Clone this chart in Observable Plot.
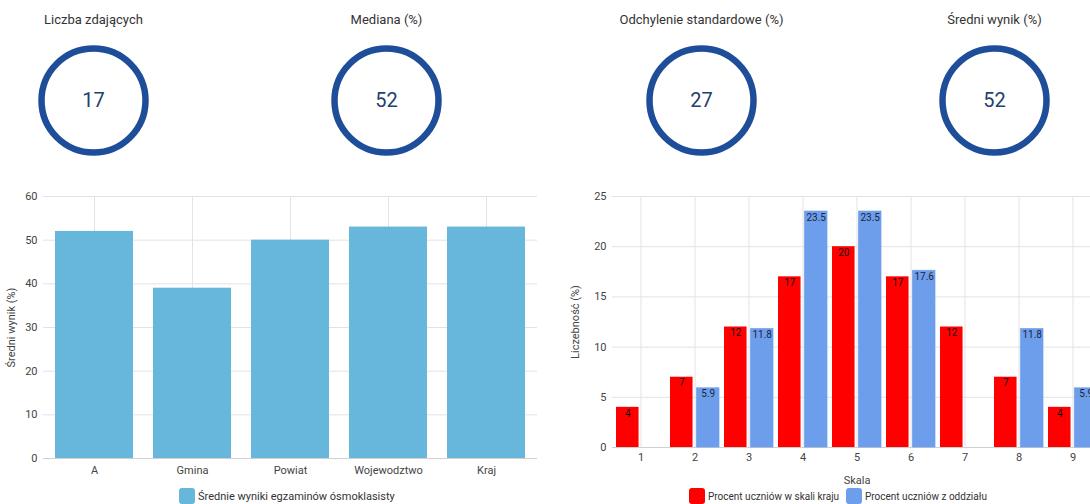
<!DOCTYPE html>
<html>
<head>
<meta charset="utf-8">
<script src="https://cdn.jsdelivr.net/npm/d3@7"></script>
<script src="https://cdn.jsdelivr.net/npm/@observablehq/plot@0.6"></script>
<style>
  html, body { margin: 0; padding: 0; background: #fff; }
  body { width: 1090px; height: 504px; overflow: hidden; position: relative; font-family: Roboto, "Noto Sans", sans-serif; }
  .abs { position: absolute; }
  .abs svg { max-width: none !important; display: block; }
  .legend { position: absolute; display: flex; align-items: center; font-size: 11px; color: #333; white-space: nowrap; }
  .sw { width: 16px; height: 16px; border-radius: 3px; margin-right: 3px; flex: none; }
</style>
</head>
<body>
<script>
// ---- data ----
const kpiLabels = ["Liczba zdających", "Mediana (%)", "Odchylenie standardowe (%)", "Średni wynik (%)"];
const kpiValues = [17, 52, 27, 52];

const areaCategories = ["A", "Gmina", "Powiat", "Wojewodztwo", "Kraj"];
const areaValues = [52, 39, 50, 53, 53];
const areaSeriesName = "Średnie wyniki egzaminów ósmoklasisty";
const areaTicks = [0, 10, 20, 30, 40, 50, 60];

const scaleCategories = ["1", "2", "3", "4", "5", "6", "7", "8", "9"];
const countrySeriesName = "Procent uczniów w skali kraju";
const classSeriesName = "Procent uczniów z oddziału";
const countryValues = [4, 7, 12, 17, 20, 17, 12, 7, 4];
const classValues = [0, 5.9, 11.8, 23.5, 23.5, 17.6, 0, 11.8, 5.9];
const scaleTicks = [0, 5, 10, 15, 20, 25];

// ---- styles ----
const ringColor = "#1e4d99";
const areaColor = "#67b6dc";
const countryColor = "#ff0000";
const classColor = "#6d9eeb";
const gridColor = "#e3e3e3";
const baseStyle = { fontFamily: "Roboto, sans-serif", fontSize: "11px", color: "#444", background: "transparent", overflow: "visible" };

function place(node, left, top, width, height) {
  const d = document.createElement("div");
  d.className = "abs";
  d.style.left = left + "px";
  d.style.top = top + "px";
  d.style.width = width + "px";
  d.style.height = height + "px";
  d.appendChild(node);
  document.body.appendChild(d);
}

// ---- KPI rings ----
const kpiCenters = [93, 386, 701, 994];
kpiLabels.forEach((label, i) => {
  const kpi = [{label, value: kpiValues[i]}];
  const p = Plot.plot({
    width: 240, height: 170,
    marginTop: 40, marginBottom: 10, marginLeft: 0, marginRight: 0,
    style: baseStyle,
    marks: [
      Plot.text(kpi, {text: "label", frameAnchor: "top", dy: -21, lineAnchor: "middle", fontSize: 13, fill: "#333"}),
      Plot.dot(kpi, {frameAnchor: "middle", r: 52, stroke: ringColor, strokeWidth: 6.5, fill: "none"}),
      Plot.text(kpi, {text: d => String(d.value), frameAnchor: "middle", fontSize: 20, fill: "#23406f"})
    ]
  });
  place(p, kpiCenters[i] - 120, 0, 240, 170);
});

// ---- left chart ----
const areaData = areaCategories.map((c, i) => ({category: c, value: areaValues[i]}));
const left = Plot.plot({
  width: 560, height: 310,
  marginLeft: 43, marginRight: 23, marginTop: 16, marginBottom: 32,
  style: baseStyle,
  x: {domain: areaCategories, paddingInner: 0.2, paddingOuter: 0.1},
  y: {domain: [0, 60]},
  marks: [
    Plot.gridY(areaTicks, {stroke: gridColor, strokeOpacity: 1}),
    Plot.gridX(areaCategories, {stroke: gridColor, strokeOpacity: 1}),
    Plot.ruleY([0], {stroke: "#d0d0d0"}),
    Plot.barY(areaData, {x: "category", y: "value", fill: areaColor}),
    Plot.axisY(areaTicks, {tickSize: 0, tickPadding: 6, label: "Średni wynik (%)", labelAnchor: "center", labelOffset: 36, labelArrow: "none", fill: "#444"}),
    Plot.axisX({tickSize: 0, tickPadding: 8, label: null, fill: "#444"})
  ]
});
place(left, 0, 180, 560, 310);

// ---- right chart ----
const rPad = {inner: 0.1, outer: 0.05};
const rMarginLeft = 52, rMarginRight = 19, rWidth = 560;
const rStep = (rWidth - rMarginLeft - rMarginRight) / (scaleCategories.length - rPad.inner + 2 * rPad.outer);
const rBand = rStep * (1 - rPad.inner);
const half = rBand / 2 + 2;
const countryData = scaleCategories.map((c, i) => ({skala: c, value: countryValues[i]}));
const classData = scaleCategories.map((c, i) => ({skala: c, value: classValues[i]}));
const right = Plot.plot({
  width: rWidth, height: 310,
  marginLeft: rMarginLeft, marginRight: rMarginRight, marginTop: 16, marginBottom: 43,
  style: baseStyle,
  x: {domain: scaleCategories, paddingInner: rPad.inner, paddingOuter: rPad.outer},
  y: {domain: [0, 25]},
  marks: [
    Plot.gridY(scaleTicks, {stroke: gridColor, strokeOpacity: 1}),
    Plot.gridX(scaleCategories, {stroke: gridColor, strokeOpacity: 1}),
    Plot.ruleY([0], {stroke: "#d0d0d0"}),
    Plot.barY(countryData, {x: "skala", y: "value", fill: countryColor, insetRight: half}),
    Plot.barY(classData, {x: "skala", y: "value", fill: classColor, stroke: classColor, strokeOpacity: 0.7, strokeWidth: 1, insetLeft: half}),
    Plot.text(countryData.filter(d => d.value > 0), {x: "skala", y: "value", text: d => String(d.value), dx: -(rBand / 4 + 1), dy: 6, lineAnchor: "middle", fontSize: 10, fill: "#111"}),
    Plot.text(classData.filter(d => d.value > 0), {x: "skala", y: "value", text: d => String(d.value), dx: rBand / 4 + 1, dy: 6, lineAnchor: "middle", fontSize: 10, fill: "#1b2540"}),
    Plot.axisY(scaleTicks, {tickSize: 0, tickPadding: 6, label: "Liczebność (%)", labelAnchor: "center", labelOffset: 41, labelArrow: "none", fill: "#444"}),
    Plot.axisX({tickSize: 0, tickPadding: 6, label: "Skala", labelAnchor: "center", labelOffset: 36, labelArrow: "none", fill: "#444"})
  ]
});
place(right, 560, 180, 560, 310);

// ---- legends ----
function legend(items, top, fontSize) {
  items.forEach(([name, color, x]) => {
    const d = document.createElement("div");
    d.className = "legend";
    d.style.left = x + "px";
    d.style.top = top + "px";
    d.style.zIndex = 5;
    d.style.fontSize = fontSize + "px";
    const sw = document.createElement("div");
    sw.className = "sw";
    sw.style.background = color;
    d.appendChild(sw);
    const t = document.createElement("span");
    t.textContent = name;
    d.appendChild(t);
    document.body.appendChild(d);
  });
}
legend([[areaSeriesName, areaColor, 179]], 488, 11);
legend([[countrySeriesName, countryColor, 689], [classSeriesName, classColor, 846]], 488, 10);
</script>
</body>
</html>
